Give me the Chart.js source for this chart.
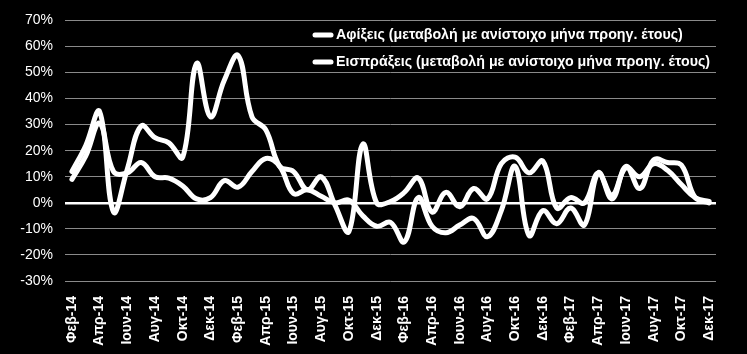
<!DOCTYPE html>
<html>
<head>
<meta charset="utf-8">
<script src="https://cdn.jsdelivr.net/npm/chart.js@4.4.1/dist/chart.umd.min.js"></script>
<style>
html,body{margin:0;padding:0;background:#000;}
#wrap{width:747px;height:354px;position:relative;}
</style>
</head>
<body>
<div id="wrap"><canvas id="c" width="747" height="354"></canvas></div>
<script>
const categories = ['Φεβ-14','Μαρ-14','Απρ-14','Μαϊ-14','Ιουν-14','Ιουλ-14','Αυγ-14','Σεπ-14','Οκτ-14','Νοε-14','Δεκ-14',
  'Ιαν-15','Φεβ-15','Μαρ-15','Απρ-15','Μαϊ-15','Ιουν-15','Ιουλ-15','Αυγ-15','Σεπ-15','Οκτ-15','Νοε-15','Δεκ-15',
  'Ιαν-16','Φεβ-16','Μαρ-16','Απρ-16','Μαϊ-16','Ιουν-16','Ιουλ-16','Αυγ-16','Σεπ-16','Οκτ-16','Νοε-16','Δεκ-16',
  'Ιαν-17','Φεβ-17','Μαρ-17','Απρ-17','Μαϊ-17','Ιουν-17','Ιουλ-17','Αυγ-17','Σεπ-17','Οκτ-17','Νοε-17','Δεκ-17'];

const arrivals = [12,22,35,-3.5,13,29.5,25,23,17.5,53.5,33,
  47,56.5,33,28,14,12,5,10,-1,-11,22.5,0,
  0.5,4,9.5,-3.5,4,-1.5,5.5,1.5,15,17.5,11.5,16,
  -2,2,0,11.5,1.5,14,5.5,16.5,15.5,14.5,2,0];

const receipts = [9,18,30.5,12,11.5,15.5,10,9.5,6.5,1.5,2,
  8.5,6,12,17,14,3.5,5,2.5,0,1,-5,-9,
  -7.5,-15,2,-9,-11.5,-8.5,-6,-13,-3,14,-12.5,-3,
  -8,-2,-8.5,11.5,3,13.5,10,15,12.5,7,2,0.5];

const seriesLabels = ['Αφίξεις (μεταβολή με ανίστοιχο μήνα προηγ. έτους)',
                      'Εισπράξεις (μεταβολή με ανίστοιχο μήνα προηγ. έτους)'];

const FONT = '"Liberation Sans", Arial, sans-serif';

const bgPlugin = {
  id: 'bg',
  beforeDraw(chart) {
    const ctx = chart.ctx;
    ctx.save();
    ctx.fillStyle = '#000';
    ctx.fillRect(0, 0, chart.width, chart.height);
    ctx.restore();
  }
};

const legendPlugin = {
  id: 'customLegend',
  afterDraw(chart) {
    const ctx = chart.ctx;
    ctx.save();
    let size = 13;
    ctx.font = 'bold ' + size + 'px ' + FONT;
    const w = ctx.measureText(seriesLabels[0]).width;
    size = size * 347 / w;
    ctx.font = 'bold ' + size.toFixed(2) + 'px ' + FONT;
    const rows = [35, 62];
    chart.data.datasets.forEach((ds, i) => {
      const y = rows[i];
      ctx.strokeStyle = '#fff';
      ctx.lineWidth = 5;
      ctx.lineCap = 'round';
      ctx.beginPath();
      ctx.moveTo(315, y);
      ctx.lineTo(331, y);
      ctx.stroke();
      ctx.fillStyle = '#fff';
      ctx.textBaseline = 'middle';
      ctx.textAlign = 'left';
      ctx.fillText(ds.label, 336, y);
    });
    ctx.restore();
  }
};

new Chart(document.getElementById('c'), {
  type: 'line',
  data: {
    labels: categories,
    datasets: [
      { label: seriesLabels[0], data: arrivals, borderColor: '#fff', borderWidth: 5, pointRadius: 0, tension: 0.4, borderCapStyle: 'round', borderJoinStyle: 'round', fill: false },
      { label: seriesLabels[1], data: receipts, borderColor: '#fff', borderWidth: 5, pointRadius: 0, tension: 0.4, borderCapStyle: 'round', borderJoinStyle: 'round', fill: false }
    ]
  },
  options: {
    responsive: false,
    animation: false,
    layout: { padding: { top: 20, right: 31, left: 0, bottom: 0 } },
    plugins: { legend: { display: false }, tooltip: { enabled: false } },
    scales: {
      x: {
        offset: true,
        grid: { display: false },
        border: { display: false },
        ticks: {
          autoSkip: false,
          maxRotation: 90,
          minRotation: 90,
          padding: 7,
          color: '#fff',
          font: { family: FONT, size: 14, weight: 'bold' },
          callback: function(v, i) { return i % 2 === 0 ? this.getLabelForValue(v) : ''; }
        },
        afterFit: s => { s.height = 73; }
      },
      y: {
        min: -30,
        max: 70,
        border: { display: false },
        grid: {
          drawTicks: false,
          color: c => c.tick && c.tick.value === 0 ? '#ffffff' : '#8a8a8a',
          lineWidth: c => c.tick && c.tick.value === 0 ? 2.5 : 1
        },
        ticks: {
          stepSize: 10,
          padding: 12,
          color: '#fff',
          font: { family: FONT, size: 14 },
          callback: v => v + '%'
        },
        afterFit: s => { s.width = 65; }
      }
    }
  },
  plugins: [bgPlugin, legendPlugin]
});
</script>
</body>
</html>
